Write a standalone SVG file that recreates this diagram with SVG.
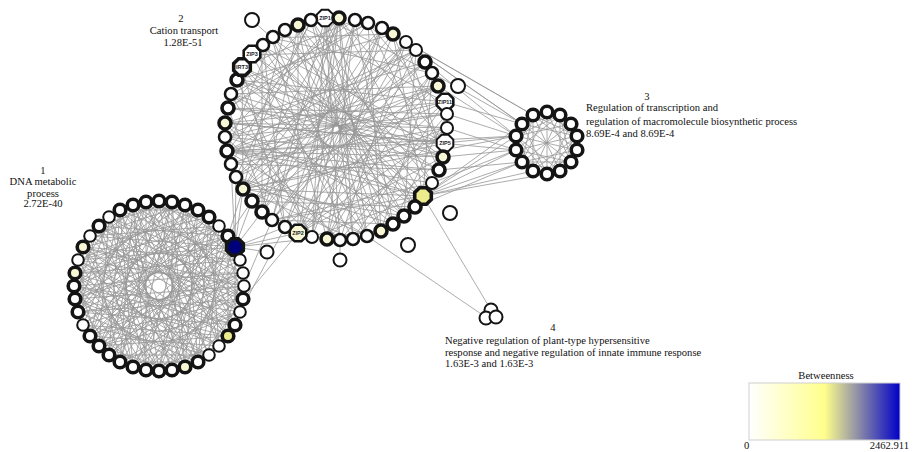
<svg xmlns="http://www.w3.org/2000/svg" xmlns:xlink="http://www.w3.org/1999/xlink" width="915" height="452" viewBox="0 0 915 452">
<style>
.lbl{font-family:"Liberation Serif","Times New Roman",serif;font-size:10.6px;fill:#111}
.mid{text-anchor:middle}
.nt{font-family:"Liberation Sans",Arial,sans-serif;font-size:5.5px;font-weight:bold;fill:#222;text-anchor:middle}
circle,use{fill:#fff;stroke:#141414;stroke-width:3.6}
.m{stroke-width:2.6}
.t{stroke-width:2}
.y{fill:#f7f7d6}
.yy{fill:#ecec8c}
.b{fill:#00007a}
.e{fill:none;stroke:#979797;stroke-width:0.8}
</style>
<defs>
<polygon id="oct" points="8.3,3.4 3.4,8.3 -3.4,8.3 -8.3,3.4 -8.3,-3.4 -3.4,-8.3 3.4,-8.3 8.3,-3.4"/>
<linearGradient id="bw" x1="0" y1="0" x2="1" y2="0">
<stop offset="0" stop-color="#ffffff"/>
<stop offset="0.5" stop-color="#ffff8c"/>
<stop offset="1" stop-color="#0000c8"/>
</linearGradient>
</defs>
<rect width="915" height="452" fill="#fff"/>
<g id="edges">
<path class="e" d="M244 286L146 370M243 299L133 367M240 312L120 362M228 336L99 346M219 346L90 336M209 355L83 325M198 362L78 312M185 367L75 299M172 370L74 286M159 371L75 273M146 370L78 260M133 367L83 247M120 362L90 236M99 346L109 217M90 336L120 210M83 325L133 205M78 312L146 202M75 299L159 201M74 286L172 202M75 273L185 205M78 260L198 210M83 247L209 217M90 236L219 226M99 226L228 236M120 210L240 260M133 205L243 273M146 202L244 286M159 201L243 299M172 202L240 312M185 205L235 325M209 217L219 346M219 226L209 355M228 236L198 362M235 247L185 367M240 260L172 370M243 273L159 371
M244 286L99 346M243 299L90 336M235 325L78 312M228 336L75 299M219 346L74 286M209 355L75 273M198 362L78 260M185 367L83 247M159 371L99 226M146 370L109 217M133 367L120 210M120 362L133 205M109 355L146 202M99 346L159 201M90 336L172 202M78 312L198 210M75 299L209 217M74 286L219 226M75 273L228 236M78 260L235 247M83 247L240 260M99 226L244 286M109 217L243 299M120 210L240 312M133 205L235 325M146 202L228 336M159 201L219 346M185 205L198 362M198 210L185 367M209 217L172 370M219 226L159 371M228 236L146 370M235 247L133 367M243 273L109 355
M244 286L78 312M240 312L74 286M235 325L75 273M228 336L78 260M219 346L83 247M198 362L99 226M185 367L109 217M172 370L120 210M159 371L133 205M146 370L146 202M120 362L172 202M109 355L185 205M99 346L198 210M90 336L209 217M83 325L219 226M78 312L228 236M75 299L235 247M75 273L243 273M78 260L244 286M83 247L243 299M90 236L240 312M99 226L235 325M109 217L228 336M133 205L209 355M146 202L198 362M159 201L185 367M172 202L172 370M185 205L159 371M209 217L133 367M219 226L120 362M228 236L109 355M235 247L99 346M240 260L90 336M243 273L83 325
M243 299L198 362M235 325L172 370M219 346L146 370M198 362L120 362M172 370L99 346M146 370L83 325M120 362L75 299M99 346L75 273M83 325L83 247M75 299L99 226M75 273L120 210M83 247L146 202M99 226L172 202M120 210L198 210M146 202L219 226M172 202L235 247M198 210L243 273M219 226L243 299M235 247L235 325M243 273L219 346
M244 286L185 367M209 355L109 355M133 367L74 286M78 312L109 217M90 236L185 205M159 201L240 260M228 236L228 336
M244 286L120 362M240 312L99 346M228 336L83 325M209 355L75 299M185 367L75 273M159 371L83 247M133 367L99 226M109 355L120 210M90 336L146 202M78 312L172 202M74 286L198 210M78 260L219 226M90 236L235 247M109 217L243 273M133 205L243 299M159 201L235 325M185 205L219 346M209 217L198 362M228 236L172 370M240 260L146 370
M243 299L78 312M235 325L74 286M219 346L78 260M198 362L90 236M172 370L109 217M146 370L133 205M120 362L159 201M99 346L185 205M83 325L209 217M75 299L228 236M75 273L240 260M83 247L244 286M99 226L240 312M120 210L228 336M146 202L209 355M172 202L185 367M198 210L159 371M219 226L133 367M235 247L109 355M243 273L90 336
M244 286L75 299M228 336L83 247M185 367L120 210M133 367L172 202M90 336L219 226M74 286L243 273M90 236L235 325M133 205L198 362M185 205L146 370M228 236L99 346"/>
<path class="e" d="M325 18L415 207M355 20L393 224M368 23L381 231M406 42L340 240M416 50L327 239M432 73L298 233M438 86L285 227M447 128L252 201M445 143L243 189M439 170L231 164M432 183L227 151M423 196L225 137M393 224L231 94M367 236L242 67M353 239L252 55M327 239L272 38M298 233L298 25M272 220L325 18M262 212L339 18M243 189L368 23M236 177L382 28M225 137L416 50M225 123L425 62M231 94L438 86M237 80L445 102M262 46L445 143M272 38L443 157M298 25L432 183M312 20L423 196
M325 18L381 231M339 18L367 236M382 28L327 239M393 34L312 237M406 42L298 233M425 62L272 220M438 86L252 201M445 102L243 189M447 128L231 164M445 143L227 151M443 157L225 137M423 196L231 94M415 207L237 80M404 216L242 67M381 231L262 46M367 236L272 38M340 240L298 25M312 237L325 18M298 233L339 18M285 227L355 20M252 201L393 34M243 189L406 42M236 177L416 50M227 151L432 73M225 137L438 86M228 108L447 114M237 80L445 143M242 67L443 157M252 55L439 170M285 30L415 207M298 25L404 216M312 20L393 224
M339 18L445 143M368 23L439 170M393 34L423 196M416 50L404 216M432 73L381 231M445 102L353 239M447 128L327 239M443 157L298 233M432 183L272 220M415 207L252 201M393 224L236 177M367 236L227 151M340 240L225 123M312 237L231 94M285 227L242 67M262 212L262 46M243 189L285 30M231 164L312 20M225 137L339 18M228 108L368 23M237 80L393 34M252 55L416 50M272 38L432 73M298 25L445 102
M325 18L432 73M368 23L447 114M406 42L443 157M432 73L423 196M447 114L393 224M443 157L353 239M423 196L312 237M393 224L272 220M353 239L243 189M312 237L227 151M272 220L228 108M243 189L242 67M227 151L272 38M228 108L312 20M242 67L355 20M272 38L393 34
M339 18L353 239M339 18L272 220M339 18L243 189M339 18L227 151M339 18L432 183M339 18L312 237M227 151L443 157M227 151L439 170M227 151L447 114M227 151L445 102M225 123L445 102M225 123L447 128M225 123L445 143M423 196L227 151M423 196L243 189M423 196L272 220M423 196L262 46
M325 18L340 240M355 20L312 237M382 28L285 227M406 42L262 212M425 62L243 189M438 86L231 164M447 114L225 137M445 143L228 108M439 170L237 80M423 196L252 54M404 216L273 37M381 231L298 25M353 239L325 18M327 239L355 20M298 233L382 28M272 220L406 42M252 201L425 62M236 177L438 86M231 94L443 157M242 67L432 183M263 45L415 207M285 30L393 224M311 20L367 236
M368 23L231 94M393 34L443 157M432 73L327 239M445 102L298 233M404 216L243 189M367 236L236 177M340 240L225 137M312 237L237 80M285 227L263 45M262 212L298 25M416 50L227 151M447 128L228 108
M355 20L228 108M382 28L262 212M447 114L340 240M404 216L225 123M272 220L416 50M298 233L447 128M311 20L236 177"/>
<path class="e" d="M547 112L571 162M560 115L560 171M571 124L547 174M577 136L533 171M577 150L522 162M571 162L516 150M560 171L516 136M547 174L522 124M533 171L533 115M522 162L547 112M516 150L560 115M516 136L571 124M522 124L577 136M533 115L577 150M547 112L547 174M560 115L533 171M571 124L522 162M577 136L516 150M577 150L516 136M571 162L522 124M560 171L533 115M547 112L577 136M571 124L571 162M577 150L547 174M560 171L522 162M533 171L516 136M516 150L533 115M522 124L560 115M560 115L571 162M577 136L547 174M571 162L522 162M547 174L516 136M522 162L533 115M516 136L560 115M533 115L577 136"/>
<path class="e" d="M416 50L522 124M406 42L533 115M425 62L516 136M432 73L522 124M438 86L516 136M445 102L522 124M447 114L516 136M447 128L516 150M445 143L516 136M443 157L516 150M439 170L522 162M432 183L516 150M423 196L516 136M423 196L516 150M423 196L522 162M423 196L533 171M423 196L522 124M423 196L547 174M415 207L522 162M393 34L522 124M382 28L533 115M227 151L516 136M225 123L516 150M243 189L516 136"/>
<path class="e" d="M235 247L252 201M235 247L243 189M235 247L262 212M235 247L236 177M235 247L298 233M235 247L285 227M235 247L231 164M235 247L381 231M235 247L267 252M243 299L298 233M244 286L272 220M240 312L285 227M243 189L228 236M228 236L252 201M423 196L491 310M367 236L487 318M340 240L340 259M252 20L272 38"/>
</g>
<g id="cluster1">
<g id="c1n0"><circle cx="244" cy="286" r="5.8" class="t"/></g>
<g id="c1n1"><circle cx="243" cy="299" r="5.8"/></g>
<g id="c1n2"><circle cx="240" cy="312" r="5.8" class="t"/></g>
<g id="c1n3"><circle cx="235" cy="325" r="5.8"/></g>
<g id="c1n4"><circle cx="228" cy="336" r="5.8" class="yy"/></g>
<g id="c1n5"><circle cx="219" cy="346" r="5.8" class="t"/></g>
<g id="c1n6"><circle cx="209" cy="355" r="5.8" class="t"/></g>
<g id="c1n7"><circle cx="198" cy="362" r="5.8"/></g>
<g id="c1n8"><circle cx="185" cy="367" r="5.8" class="y"/></g>
<g id="c1n9"><circle cx="172" cy="370" r="5.8"/></g>
<g id="c1n10"><circle cx="159" cy="371" r="5.8"/></g>
<g id="c1n11"><circle cx="146" cy="370" r="5.8"/></g>
<g id="c1n12"><circle cx="133" cy="367" r="5.8"/></g>
<g id="c1n13"><circle cx="120" cy="362" r="5.8"/></g>
<g id="c1n14"><circle cx="109" cy="355" r="5.8"/></g>
<g id="c1n15"><circle cx="99" cy="346" r="5.8"/></g>
<g id="c1n16"><circle cx="90" cy="336" r="5.8"/></g>
<g id="c1n17"><circle cx="83" cy="325" r="5.8" class="t"/></g>
<g id="c1n18"><circle cx="78" cy="312" r="5.8"/></g>
<g id="c1n19"><circle cx="75" cy="299" r="5.8"/></g>
<g id="c1n20"><circle cx="74" cy="286" r="5.8"/></g>
<g id="c1n21"><circle cx="75" cy="273" r="5.8" class="y"/></g>
<g id="c1n22"><circle cx="78" cy="260" r="5.8" class="t"/></g>
<g id="c1n23"><circle cx="83" cy="247" r="5.8" class="y"/></g>
<g id="c1n24"><circle cx="90" cy="236" r="5.8" class="t"/></g>
<g id="c1n25"><circle cx="99" cy="226" r="5.8"/></g>
<g id="c1n26"><circle cx="109" cy="217" r="5.8" class="t"/></g>
<g id="c1n27"><circle cx="120" cy="210" r="5.8"/></g>
<g id="c1n28"><circle cx="133" cy="205" r="5.8"/></g>
<g id="c1n29"><circle cx="146" cy="202" r="5.8"/></g>
<g id="c1n30"><circle cx="159" cy="201" r="5.8"/></g>
<g id="c1n31"><circle cx="172" cy="202" r="5.8"/></g>
<g id="c1n32"><circle cx="185" cy="205" r="5.8"/></g>
<g id="c1n33"><circle cx="198" cy="210" r="5.8"/></g>
<g id="c1n34"><circle cx="209" cy="217" r="5.8"/></g>
<g id="c1n35"><circle cx="219" cy="226" r="5.8" class="t"/></g>
<g id="c1n36"><circle cx="228" cy="236" r="5.8"/></g>
<g id="c1n37"><use xlink:href="#oct" href="#oct" x="235" y="247" class="b"/></g>
<g id="c1n38"><circle cx="240" cy="260" r="5.8" class="t"/></g>
<g id="c1n39"><circle cx="243" cy="273" r="5.8" class="t"/></g>
</g>
<g id="cluster2">
<g id="ZIP1"><use xlink:href="#oct" href="#oct" x="325" y="18" class="t"/><text class="nt" x="325" y="20">ZIP1</text></g>
<g id="c2n1"><circle cx="339" cy="18" r="6" class="y"/></g>
<g id="c2n2"><circle cx="355" cy="20" r="6" class="m"/></g>
<g id="c2n3"><circle cx="368" cy="23" r="6" class="m"/></g>
<g id="c2n4"><circle cx="382" cy="28" r="6" class="m"/></g>
<g id="c2n5"><circle cx="393" cy="34" r="6" class="y"/></g>
<g id="c2n6"><circle cx="406" cy="42" r="6" class="t"/></g>
<g id="c2n7"><circle cx="416" cy="50" r="6" class="t"/></g>
<g id="c2n8"><circle cx="425" cy="62" r="6"/></g>
<g id="c2n9"><circle cx="432" cy="73" r="6" class="m"/></g>
<g id="c2n10"><circle cx="438" cy="86" r="6" class="y"/></g>
<g id="ZIP11"><use xlink:href="#oct" href="#oct" x="445" y="102" class="m"/><text class="nt" x="445" y="104">ZIP11</text></g>
<g id="c2n12"><circle cx="447" cy="114" r="6" class="t"/></g>
<g id="c2n13"><circle cx="447" cy="128" r="6" class="t"/></g>
<g id="ZIP5"><use xlink:href="#oct" href="#oct" x="445" y="143" class="t"/><text class="nt" x="445" y="145">ZIP5</text></g>
<g id="c2n15"><circle cx="443" cy="157" r="6" class="y"/></g>
<g id="c2n16"><circle cx="439" cy="170" r="6"/></g>
<g id="c2n17"><circle cx="432" cy="183" r="6" class="t"/></g>
<g id="c2n18"><use xlink:href="#oct" href="#oct" x="423" y="196" class="yy"/></g>
<g id="c2n19"><circle cx="415" cy="207" r="6"/></g>
<g id="c2n20"><circle cx="404" cy="216" r="6"/></g>
<g id="c2n21"><circle cx="393" cy="224" r="6"/></g>
<g id="c2n22"><circle cx="381" cy="231" r="6" class="y"/></g>
<g id="c2n23"><circle cx="367" cy="236" r="6" class="m"/></g>
<g id="c2n24"><circle cx="353" cy="239" r="6" class="m"/></g>
<g id="c2n25"><circle cx="340" cy="240" r="6" class="m"/></g>
<g id="c2n26"><circle cx="327" cy="239" r="6" class="y"/></g>
<g id="c2n27"><circle cx="312" cy="237" r="6" class="t"/></g>
<g id="ZIP2"><use xlink:href="#oct" href="#oct" x="298" y="233" class="m y"/><text class="nt" x="298" y="235">ZIP2</text></g>
<g id="c2n29"><circle cx="285" cy="227" r="6" class="m"/></g>
<g id="c2n30"><circle cx="272" cy="220" r="6" class="m"/></g>
<g id="c2n31"><circle cx="262" cy="212" r="6"/></g>
<g id="c2n32"><circle cx="252" cy="201" r="6"/></g>
<g id="c2n33"><circle cx="243" cy="189" r="6" class="y"/></g>
<g id="c2n34"><circle cx="236" cy="177" r="6" class="m"/></g>
<g id="c2n35"><circle cx="231" cy="164" r="6" class="m"/></g>
<g id="c2n36"><circle cx="227" cy="151" r="6"/></g>
<g id="c2n37"><circle cx="225" cy="137" r="6" class="m"/></g>
<g id="c2n38"><circle cx="225" cy="123" r="6" class="y"/></g>
<g id="c2n39"><circle cx="228" cy="108" r="6"/></g>
<g id="c2n40"><circle cx="231" cy="94" r="6" class="m"/></g>
<g id="c2n41"><circle cx="237" cy="80" r="6"/></g>
<g id="IRT3"><use xlink:href="#oct" href="#oct" x="242" y="67"/><text class="nt" x="242" y="69">IRT3</text></g>
<g id="ZIP3"><use xlink:href="#oct" href="#oct" x="252" y="54" class="m"/><text class="nt" x="252" y="56">ZIP3</text></g>
<g id="c2n44"><circle cx="263" cy="45" r="6" class="m"/></g>
<g id="c2n45"><circle cx="273" cy="37" r="6" class="m"/></g>
<g id="c2n46"><circle cx="285" cy="30" r="6" class="m"/></g>
<g id="c2n47"><circle cx="298" cy="25" r="6" class="y"/></g>
<g id="c2n48"><circle cx="311" cy="20" r="6" class="m"/></g>
</g>
<g id="cluster3">
<g id="c3n0"><circle cx="547" cy="112" r="5.8"/></g>
<g id="c3n1"><circle cx="560" cy="115" r="5.8"/></g>
<g id="c3n2"><circle cx="571" cy="124" r="5.8"/></g>
<g id="c3n3"><circle cx="577" cy="136" r="5.8"/></g>
<g id="c3n4"><circle cx="577" cy="150" r="5.8"/></g>
<g id="c3n5"><circle cx="571" cy="162" r="5.8"/></g>
<g id="c3n6"><circle cx="560" cy="171" r="5.8"/></g>
<g id="c3n7"><circle cx="547" cy="174" r="5.8"/></g>
<g id="c3n8"><circle cx="533" cy="171" r="5.8"/></g>
<g id="c3n9"><circle cx="522" cy="162" r="5.8"/></g>
<g id="c3n10"><circle cx="516" cy="150" r="5.8"/></g>
<g id="c3n11"><circle cx="516" cy="136" r="5.8"/></g>
<g id="c3n12"><circle cx="522" cy="124" r="5.8"/></g>
<g id="c3n13"><circle cx="533" cy="115" r="5.8"/></g>
</g>
<g id="cluster4">
<g id="c4n0"><circle cx="491" cy="310" r="6.5" class="t"/></g>
<g id="c4n1"><circle cx="486" cy="318" r="6.5" class="t"/></g>
<g id="c4n2"><circle cx="496" cy="317" r="6.5" class="t"/></g>
</g>
<g id="isolated">
<g id="i1"><circle cx="252" cy="20" r="7" class="t"/></g>
<g id="i2"><circle cx="458" cy="86" r="7" class="t"/></g>
<g id="i3"><circle cx="450" cy="213" r="7" class="t"/></g>
<g id="i4"><circle cx="408" cy="245" r="7" class="t"/></g>
<g id="i5"><circle cx="340" cy="260" r="6.5" class="t"/></g>
<g id="i6"><circle cx="267" cy="252" r="6.5" class="t"/></g>
</g>
<g id="labels">
<text class="lbl mid" x="43" y="174">1</text>
<text class="lbl mid" x="43" y="185">DNA metabolic</text>
<text class="lbl mid" x="43" y="196.5">process</text>
<text class="lbl mid" x="43" y="207">2.72E-40</text>
<text class="lbl mid" x="181" y="22">2</text>
<text class="lbl mid" x="184" y="34">Cation transport</text>
<text class="lbl mid" x="183" y="46">1.28E-51</text>
<text class="lbl mid" x="647" y="100">3</text>
<text class="lbl" x="586" y="111">Regulation of transcription and</text>
<text class="lbl" x="586" y="124.5">regulation of macromolecule biosynthetic process</text>
<text class="lbl" x="586" y="137">8.69E-4 and 8.69E-4</text>
<text class="lbl mid" x="553" y="330.5">4</text>
<text class="lbl" x="445" y="343.5">Negative regulation of plant-type hypersensitive</text>
<text class="lbl" x="445" y="355.5">response and negative regulation of innate immune response</text>
<text class="lbl" x="445" y="366.5">1.63E-3 and 1.63E-3</text>
</g>
<g id="legend">
<text class="lbl mid" x="826" y="379">Betweenness</text>
<rect x="749" y="383" width="151" height="57" fill="url(#bw)" stroke="#cfcfcf" stroke-width="1"/>
<text class="lbl" x="744" y="449">0</text>
<text class="lbl" x="909" y="449" text-anchor="end">2462.911</text>
</g>
</svg>
